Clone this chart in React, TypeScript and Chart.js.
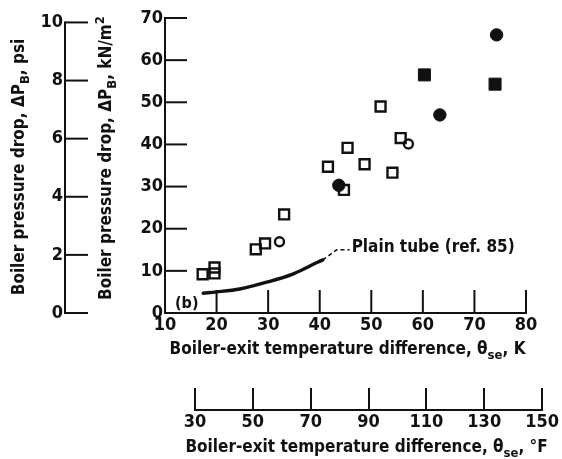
import React, { useEffect, useRef } from "react";
import { Chart, registerables } from "chart.js";

Chart.register(...registerables);

// ---------- data ----------
const K_TICKS = [10, 20, 30, 40, 50, 60, 70, 80];
const KN_TICKS = [0, 10, 20, 30, 40, 50, 60, 70];
const PSI_TICKS = [0, 2, 4, 6, 8, 10];
const F_TICKS = [30, 50, 70, 90, 110, 130, 150];
const KN_PER_PSI = 6.894757;

const openSquares = [
  { x: 17.3, y: 9.2 },
  { x: 19.6, y: 10.8 },
  { x: 19.6, y: 9.4 },
  { x: 27.6, y: 15.1 },
  { x: 29.4, y: 16.5 },
  { x: 33.1, y: 23.4 },
  { x: 41.6, y: 34.7 },
  { x: 45.4, y: 39.2 },
  { x: 44.7, y: 29.2 },
  { x: 48.7, y: 35.3 },
  { x: 51.8, y: 49.0 },
  { x: 54.1, y: 33.3 },
  { x: 55.7, y: 41.5 },
];
const openCircles = [
  { x: 32.2, y: 16.9 },
  { x: 57.2, y: 40.1 },
];
const filledSquares = [
  { x: 60.3, y: 56.5 },
  { x: 74.0, y: 54.3 },
];
const filledCircles = [
  { x: 43.7, y: 30.3 },
  { x: 63.3, y: 47.0 },
  { x: 74.3, y: 66.0 },
];
const plainTube = [
  { x: 17.4, y: 4.7 },
  { x: 20, y: 5.0 },
  { x: 24.5, y: 5.7 },
  { x: 29.7, y: 7.3 },
  { x: 34.9, y: 9.3 },
  { x: 39.7, y: 12.1 },
  { x: 40.6, y: 12.6 },
];
const leader = [
  { x: 40.6, y: 12.6 },
  { x: 43.3, y: 15.0 },
  { x: 45.8, y: 15.0 },
];
const PLAIN_LABEL = "Plain tube (ref. 85)";
const PANEL_LABEL = "(b)";

// ---------- styles ----------
const INK = "#111111";
const TICK_FAMILY = "'Liberation Sans Narrow', 'DejaVu Sans Condensed', sans-serif";
const TITLE_FAMILY = "'DejaVu Sans Condensed', 'Liberation Sans Narrow', sans-serif";
const tickFont = { family: TICK_FAMILY, size: 18, weight: "bold" as const, lineHeight: 1 };
const TITLE_SIZE = 17;

type Seg = { t: string; k?: "sub" | "sup" };

const PSI_TITLE: Seg[] = [{ t: "Boiler pressure drop, ΔP" }, { t: "B", k: "sub" }, { t: ", psi" }];
const KN_TITLE: Seg[] = [{ t: "Boiler pressure drop, ΔP" }, { t: "B", k: "sub" }, { t: ", kN/m" }, { t: "2", k: "sup" }];
const K_TITLE: Seg[] = [{ t: "Boiler-exit temperature difference, θ" }, { t: "se", k: "sub" }, { t: ", K" }];
const F_TITLE: Seg[] = [{ t: "Boiler-exit temperature difference, θ" }, { t: "se", k: "sub" }, { t: ", °F" }];

function drawRich(ctx: CanvasRenderingContext2D, segs: Seg[], x: number, y: number, size: number, rotate: boolean) {
  ctx.save();
  ctx.translate(x, y);
  if (rotate) ctx.rotate(-Math.PI / 2);
  ctx.fillStyle = INK;
  ctx.textBaseline = "middle";
  ctx.textAlign = "left";
  const fontFor = (k?: string) => `bold ${k ? Math.round(size * 0.74) : size}px ${TITLE_FAMILY}`;
  const widths = segs.map((s) => {
    ctx.font = fontFor(s.k);
    return ctx.measureText(s.t).width;
  });
  const total = widths.reduce((a, b) => a + b, 0);
  let cx = -total / 2;
  segs.forEach((s, i) => {
    ctx.font = fontFor(s.k);
    const dy = s.k === "sub" ? size * 0.34 : s.k === "sup" ? -size * 0.38 : 0;
    ctx.fillText(s.t, cx, dy);
    cx += widths[i];
  });
  ctx.restore();
}

const setTicks = (list: number[]) => (scale: any) => {
  scale.ticks = list.map((v) => ({ value: v }));
};

const line = (ctx: CanvasRenderingContext2D, x1: number, y1: number, x2: number, y2: number) => {
  ctx.beginPath();
  ctx.moveTo(x1, y1);
  ctx.lineTo(x2, y2);
  ctx.stroke();
};

const mainDecor = {
  id: "mainDecor",
  afterDraw(chart: any) {
    const ctx: CanvasRenderingContext2D = chart.ctx;
    const xs = chart.scales.x;
    const ys = chart.scales.y;
    const ps = chart.scales.psi;
    ctx.save();
    ctx.strokeStyle = INK;
    ctx.lineWidth = 2;
    ys.ticks.forEach((t: any) => {
      const p = ys.getPixelForValue(t.value);
      line(ctx, ys.right, p, ys.right + 22, p);
    });
    xs.ticks.forEach((t: any) => {
      const p = xs.getPixelForValue(t.value);
      line(ctx, p, xs.top, p, xs.top - 23);
    });
    const pl = ps.right;
    line(ctx, pl, ps.getPixelForValue(PSI_TICKS[0]) + 1, pl, ps.getPixelForValue(PSI_TICKS[PSI_TICKS.length - 1]) - 1);
    ps.ticks.forEach((t: any) => {
      const p = ps.getPixelForValue(t.value);
      line(ctx, pl, p, pl + 23, p);
    });

    drawRich(ctx, PSI_TITLE, ps.left + 20, 167, TITLE_SIZE, true);
    drawRich(ctx, KN_TITLE, ys.left + 42, 158, TITLE_SIZE, true);
    drawRich(ctx, K_TITLE, (xs.left + xs.right) / 2 + 2, xs.bottom + 7, TITLE_SIZE, false);

    ctx.fillStyle = INK;
    ctx.textBaseline = "middle";
    ctx.textAlign = "left";
    ctx.font = `bold ${TITLE_SIZE}px ${TITLE_FAMILY}`;
    const last = leader[leader.length - 1];
    ctx.fillText(PLAIN_LABEL, xs.getPixelForValue(last.x) + 2, ys.getPixelForValue(last.y) - 2);
    ctx.font = `bold 16px ${TITLE_FAMILY}`;
    ctx.fillText(PANEL_LABEL, chart.chartArea.left + 10, chart.chartArea.bottom - 9);
    ctx.restore();
  },
};

const fDecor = {
  id: "fDecor",
  afterDraw(chart: any) {
    const xs = chart.scales.x;
    drawRich(chart.ctx, F_TITLE, (xs.left + xs.right) / 2 - 2, xs.bottom + 8, TITLE_SIZE, false);
  },
};

export default function App() {
  const mainRef = useRef<HTMLCanvasElement>(null);
  const fRef = useRef<HTMLCanvasElement>(null);

  useEffect(() => {
    if (!mainRef.current || !fRef.current) return;
    const main = new Chart(mainRef.current, {
      type: "scatter",
      data: {
        datasets: [
          {
            data: plainTube,
            showLine: true,
            pointRadius: 0,
            borderColor: INK,
            borderWidth: 3.4,
            cubicInterpolationMode: "monotone",
            borderCapStyle: "round",
          } as any,
          {
            data: leader,
            showLine: true,
            pointRadius: 0,
            borderColor: INK,
            borderWidth: 1.6,
            borderDash: [4, 3],
          } as any,
          {
            data: openSquares,
            pointStyle: "rect",
            pointRadius: 7,
            borderWidth: 2.4,
            borderColor: INK,
            backgroundColor: "rgba(0,0,0,0)",
          },
          {
            data: openCircles,
            pointStyle: "circle",
            pointRadius: 4.5,
            borderWidth: 2.4,
            borderColor: INK,
            backgroundColor: "rgba(0,0,0,0)",
          },
          {
            data: filledSquares,
            pointStyle: "rect",
            pointRadius: 8.5,
            borderWidth: 1,
            borderColor: INK,
            backgroundColor: INK,
          },
          {
            data: filledCircles,
            pointStyle: "circle",
            pointRadius: 6.2,
            borderWidth: 1,
            borderColor: INK,
            backgroundColor: INK,
          },
        ],
      },
      options: {
        animation: false,
        responsive: false,
        maintainAspectRatio: false,
        layout: { padding: { left: 0, right: 36, top: 18, bottom: 116 } },
        plugins: { legend: { display: false }, tooltip: { enabled: false } },
        scales: {
          x: {
            type: "linear",
            position: "bottom",
            min: 10,
            max: 80,
            afterBuildTicks: setTicks(K_TICKS),
            afterFit: (s: any) => {
              s.height = 30;
            },
            grid: { display: false, drawTicks: false },
            border: { display: true, color: INK, width: 2 },
            ticks: { font: tickFont, color: INK, padding: 3, maxRotation: 0, autoSkip: false },
          },
          y: {
            type: "linear",
            position: "left",
            weight: 0,
            min: 0,
            max: 70,
            afterBuildTicks: setTicks(KN_TICKS),
            afterFit: (s: any) => {
              s.width = 100;
            },
            grid: { display: false, drawTicks: false },
            border: { display: true, color: INK, width: 2 },
            ticks: { font: tickFont, color: INK, padding: 2, autoSkip: false },
          },
          psi: {
            type: "linear",
            position: "left",
            weight: 1,
            min: 0,
            max: 70 / KN_PER_PSI,
            afterBuildTicks: setTicks(PSI_TICKS),
            afterFit: (s: any) => {
              s.width = 65;
            },
            grid: { display: false, drawTicks: false },
            border: { display: false },
            ticks: { font: tickFont, color: INK, padding: 2, autoSkip: false },
          },
        },
      } as any,
      plugins: [mainDecor],
    });

    const fAxis = new Chart(fRef.current, {
      type: "scatter",
      data: { datasets: [] },
      options: {
        animation: false,
        responsive: false,
        maintainAspectRatio: false,
        layout: { padding: { left: 195, right: 15, top: 388, bottom: 19 } },
        plugins: { legend: { display: false }, tooltip: { enabled: false } },
        scales: {
          x: {
            type: "linear",
            position: "bottom",
            min: 30,
            max: 150,
            afterBuildTicks: setTicks(F_TICKS),
            afterFit: (s: any) => {
              s.height = 30;
            },
            grid: { display: true, drawOnChartArea: true, drawTicks: false, color: INK, lineWidth: 2 },
            border: { display: true, color: INK, width: 2 },
            ticks: { font: tickFont, color: INK, padding: 3, maxRotation: 0, autoSkip: false },
          },
          y: { display: false, min: 0, max: 1 },
        },
      } as any,
      plugins: [fDecor],
    });

    return () => {
      main.destroy();
      fAxis.destroy();
    };
  }, []);

  return (
    <div style={{ position: "fixed", left: 0, top: 0, width: 562, height: 459, background: "#fff" }}>
      <canvas ref={mainRef} width={562} height={459} style={{ position: "absolute", left: 0, top: 0, width: 562, height: 459 }} />
      <canvas ref={fRef} width={562} height={459} style={{ position: "absolute", left: 0, top: 0, width: 562, height: 459 }} />
    </div>
  );
}
